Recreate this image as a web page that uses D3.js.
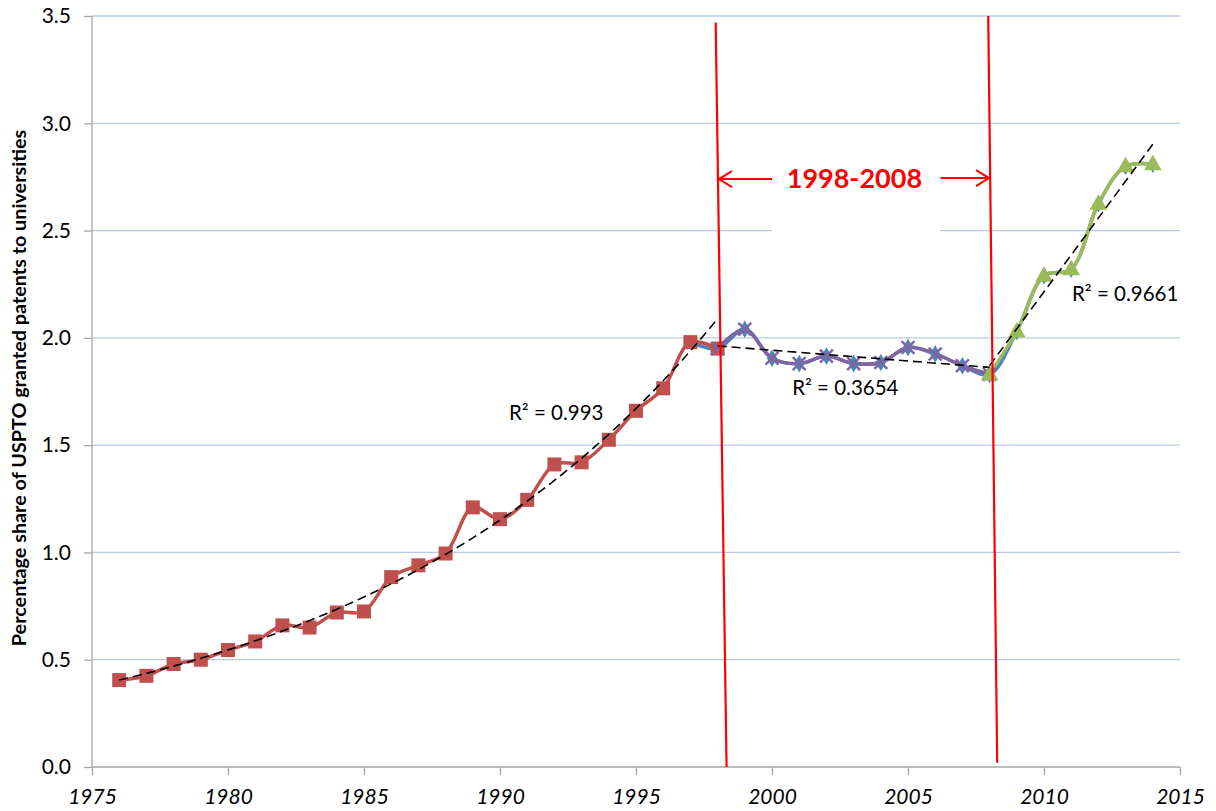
<!DOCTYPE html>
<html><head><meta charset="utf-8">
<script src="https://cdn.jsdelivr.net/npm/d3@7"></script>
<style>html,body{margin:0;padding:0;background:#fff;}svg{display:block;font-family:Lato,"Open Sans",sans-serif;}</style>
</head><body>
<svg id="c" width="1216" height="811"></svg>
<script>
const years = d3.range(1976, 2015);
const share = [0.405,0.425,0.48,0.50,0.545,0.585,0.66,0.65,0.72,0.725,0.885,0.94,0.995,1.21,1.155,1.245,1.41,1.42,1.525,1.66,1.765,1.98,
  1.95,2.04,1.905,1.88,1.915,1.88,1.885,1.955,1.925,1.87,1.83,2.03,2.29,2.32,2.625,2.80,2.81];
const yTicks = [0,0.5,1,1.5,2,2.5,3,3.5];
const xTicks = [1975,1980,1985,1990,1995,2000,2005,2010,2015];
const periodRed = [1976,1998], periodPurple=[1998,2008], periodGreen=[2008,2014], periodBlue=[1997,2014];
const r2Labels = [{t:"R² = 0.993", x:1990.33, y:1.615},{t:"R² = 0.3654", x:2000.74, y:1.735},{t:"R² = 0.9661", x:2011.03, y:2.17}];
const redLines = [{x1:1997.93,y1:3.47,x2:1998.33,y2:0},{x1:2007.95,y1:3.5,x2:2008.28,y2:0.02}];
const rangeLabel = "1998-2008";

const svg = d3.select("#c");
const x = d3.scaleLinear().domain([1975,2015]).range([92,1180]);
const y = d3.scaleLinear().domain([0,3.5]).range([767,16]);
const data = years.map((yr,i)=>({yr, v:share[i]}));
const sub = p => data.filter(d=>d.yr>=p[0]&&d.yr<=p[1]);

// grid
svg.append("g").selectAll("line").data(yTicks.filter(t=>t>0)).join("line")
  .attr("x1",x(1975)).attr("x2",x(2015)).attr("y1",d=>y(d)).attr("y2",d=>y(d))
  .attr("stroke","#b9c8e4").attr("stroke-width",1.3);
// white text box covering grid
svg.append("rect").attr("x",772).attr("y",132).attr("width",168).attr("height",104).attr("fill","#fff");

// axes
const ya = svg.append("g").attr("transform",`translate(${x(1975)},0)`)
  .call(d3.axisLeft(y).tickValues(yTicks).tickFormat(d3.format(".1f")).tickSize(8).tickPadding(13));
const xa = svg.append("g").attr("transform",`translate(0,${y(0)})`)
  .call(d3.axisBottom(x).tickValues(xTicks).tickFormat(d3.format("d")).tickSize(8).tickPadding(14));
[ya,xa].forEach(a=>{a.selectAll("path,line").attr("stroke","#a6a6a6").attr("stroke-width",1.3);
  a.selectAll("text").attr("font-size",21).attr("fill","#000").attr("font-family","Lato, sans-serif");});
xa.selectAll("text").attr("font-style","italic");
ya.select(".domain").attr("d",`M0,${y(3.5)}V${y(0)}`);
xa.select(".domain").attr("d",`M${x(1975)},0H${x(2015)}`);

svg.append("text").attr("transform",`translate(26,388) rotate(-90)`)
  .attr("text-anchor","middle").attr("font-weight","bold").attr("font-size",19.8)
  .text("Percentage share of USPTO granted patents to universities");

const line = d3.line().x(d=>x(d.yr)).y(d=>y(d.v)).curve(d3.curveCatmullRom.alpha(0.5));
const g = svg.append("g");
g.append("path").datum(sub(periodBlue)).attr("d",line).attr("fill","none").attr("stroke","#4f81bd").attr("stroke-width",3.5);
g.append("path").datum(sub(periodRed)).attr("d",line).attr("fill","none").attr("stroke","#c0504d").attr("stroke-width",3.5);
g.append("path").datum(sub(periodPurple)).attr("d",line).attr("fill","none").attr("stroke","#8064a2").attr("stroke-width",3.5);
g.append("path").datum(sub(periodGreen)).attr("d",line).attr("fill","none").attr("stroke","#9bbb59").attr("stroke-width",3.5);

// markers
const diamond = d3.symbol().type(d3.symbolDiamond).size(90);
g.append("g").selectAll("path").data(sub([1999,2014])).join("path")
  .attr("transform",d=>`translate(${x(d.yr)},${y(d.v)})`).attr("d",diamond).attr("fill","#4f81bd");
g.append("g").selectAll("rect").data(sub(periodRed)).join("rect")
  .attr("x",d=>x(d.yr)-7).attr("y",d=>y(d.v)-7).attr("width",14).attr("height",14).attr("fill","#c0504d");
const cross = d3.symbol().type(d3.symbolX).size(110);
g.append("g").selectAll("path").data(sub(periodPurple)).join("path")
  .attr("transform",d=>`translate(${x(d.yr)},${y(d.v)})`).attr("d",cross).attr("fill","none").attr("stroke","#8064a2").attr("stroke-width",2.5);
const tri = d3.symbol().type(d3.symbolTriangle).size(135);
g.append("g").selectAll("path").data(sub(periodGreen)).join("path")
  .attr("transform",d=>`translate(${x(d.yr)},${y(d.v)+1})`).attr("d",tri).attr("fill","#9bbb59");

// trendlines
function linfit(pts){const mx=d3.mean(pts,p=>p[0]),my=d3.mean(pts,p=>p[1]);
  const b=d3.sum(pts,p=>(p[0]-mx)*(p[1]-my))/d3.sum(pts,p=>(p[0]-mx)**2);return [b,my-b*mx];}
const tl = svg.append("g").attr("fill","none").attr("stroke","#000").attr("stroke-width",1.6).attr("stroke-dasharray","9,5");
{
  const pts=sub(periodRed).map(d=>[d.yr,Math.log(d.v)]);const [b,a]=linfit(pts);
  const tp=d3.range(periodRed[0],periodRed[1]+0.01,0.25).map(t=>({yr:t,v:Math.exp(a+b*t)}));
  tl.append("path").attr("d",d3.line().x(d=>x(d.yr)).y(d=>y(d.v))(tp));
}
[periodPurple,periodGreen].forEach(p=>{const [b,a]=linfit(sub(p).map(d=>[d.yr,d.v]));
  tl.append("line").attr("x1",x(p[0])).attr("x2",x(p[1])).attr("y1",y(a+b*p[0])).attr("y2",y(a+b*p[1]));});

svg.append("g").selectAll("text").data(r2Labels).join("text")
  .attr("x",d=>x(d.x)).attr("y",d=>y(d.y)).attr("font-size",20.5).text(d=>d.t);

// red annotation lines
svg.append("g").selectAll("line").data(redLines).join("line")
  .attr("x1",d=>x(d.x1)).attr("y1",d=>y(d.y1)).attr("x2",d=>x(d.x2)).attr("y2",d=>y(d.y2))
  .attr("stroke","#ff0000").attr("stroke-width",2.2);
const ay = y(2.74);
const arr = svg.append("g").attr("stroke","#ff0000").attr("stroke-width",2).attr("fill","none");
arr.append("path").attr("d",`M${x(2000.0)},${ay}H${x(1998.05)}M${x(1998.05)+13},${ay-8}L${x(1998.05)},${ay}L${x(1998.05)+13},${ay+8}`);
arr.append("path").attr("d",`M${x(2006.2)},${ay-1}H${x(2007.98)}M${x(2007.98)-13},${ay-9}L${x(2007.98)},${ay-1}L${x(2007.98)-13},${ay+7}`);
svg.append("text").attr("x",x(2003.03)).attr("y",ay+9).attr("text-anchor","middle").attr("fill","#ff0000")
  .attr("font-weight","bold").attr("font-size",27).text(rangeLabel);
</script>
</body></html>
